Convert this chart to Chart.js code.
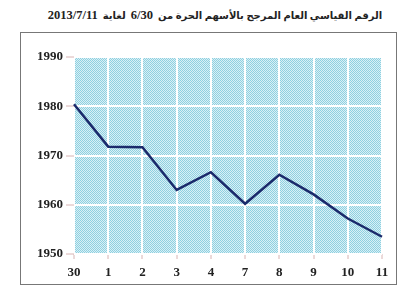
<!DOCTYPE html>
<html lang="ar">
<head>
    <meta charset="UTF-8">
    <title>الرقم القياسي العام المرجح</title>
    <script src="https://cdn.jsdelivr.net/npm/chart.js"></script>
    <style>
        body {
            margin: 0;
            width: 400px;
            height: 300px;
            background: #fff;
            overflow: hidden;
            position: relative;
        }

        .title {
            position: absolute;
            top: 8px;
            left: 30px;
            width: 370px;
            text-align: center;
            font: bold 10px 'Liberation Serif', 'DejaVu Sans', serif;
            color: #222;
            white-space: nowrap;
        }

        .title b {
            font-size: 12.5px;
        }

        .frame {
            position: absolute;
            left: 20px;
            top: 32px;
            width: 375px;
            height: 251px;
            border: 1.5px solid #777;
        }
    </style>
</head>
<body>
    <div class="title" dir="rtl">الرقم القياسي العام المرجح بالأسهم الحرة من&nbsp; <b>6/30</b>&nbsp; لغاية&nbsp; <b>2013/7/11</b></div>
    <div class="frame">
        <canvas id="indexChart" width="375" height="251"></canvas>
    </div>

    <script>
        // days from 30 June to 11 July 2013
        const days = ['30', '1', '2', '3', '4', '7', '8', '9', '10', '11'];
        const indexValues = [1980.4, 1971.8, 1971.7, 1963.0, 1966.6, 1960.2, 1966.1, 1962.1, 1957.2, 1953.5];
        const yTicks = [1950, 1960, 1970, 1980, 1990];

        // dotted light blue fill like the printed chart
        function makePattern() {
            const c = document.createElement('canvas');
            c.width = 2;
            c.height = 2;
            const p = c.getContext('2d');
            p.fillStyle = '#d9f0f6';
            p.fillRect(0, 0, 2, 2);
            p.fillStyle = '#8fd0e0';
            p.fillRect(0, 0, 1, 1);
            p.fillRect(1, 1, 1, 1);
            return p.createPattern(c, 'repeat');
        }

        const plotBackground = {
            id: 'plotBackground',
            beforeDraw(chart) {
                const { ctx, chartArea: a } = chart;
                ctx.save();
                ctx.fillStyle = makePattern();
                ctx.fillRect(a.left, a.top, a.right - a.left, a.bottom - a.top);
                ctx.restore();
            }
        };

        const tickFont = { family: "'Liberation Serif', 'Times New Roman', serif", size: 13, weight: 'bold' };

        new Chart(document.getElementById('indexChart'), {
            type: 'line',
            data: {
                labels: days,
                datasets: [{
                    data: indexValues,
                    borderColor: '#1b2a6b',
                    borderWidth: 2.5,
                    pointRadius: 0,
                    tension: 0,
                    fill: false
                }]
            },
            options: {
                responsive: false,
                animation: false,
                layout: { padding: { top: 24, right: 14, left: 0, bottom: 0 } },
                plugins: {
                    legend: { display: false },
                    tooltip: { enabled: false }
                },
                scales: {
                    x: {
                        offset: false,
                        grid: { color: '#ffffff', lineWidth: 2, tickColor: '#d8b4b4', tickWidth: 1, tickLength: 5 },
                        border: { display: false },
                        ticks: { color: '#222', font: tickFont, padding: 6, maxRotation: 0, autoSkip: false },
                        afterFit(scale) { scale.height = 30; }
                    },
                    y: {
                        min: 1950,
                        max: 1990,
                        afterBuildTicks(scale) { scale.ticks = yTicks.map(v => ({ value: v })); },
                        grid: { color: '#ffffff', lineWidth: 2, tickColor: '#d8b4b4', tickWidth: 1, tickLength: 8 },
                        border: { display: false },
                        ticks: { color: '#222', font: tickFont, padding: 3, callback: v => String(v) },
                        afterFit(scale) { scale.width = 53; }
                    }
                }
            },
            plugins: [plotBackground]
        });
    </script>
</body>
</html>
